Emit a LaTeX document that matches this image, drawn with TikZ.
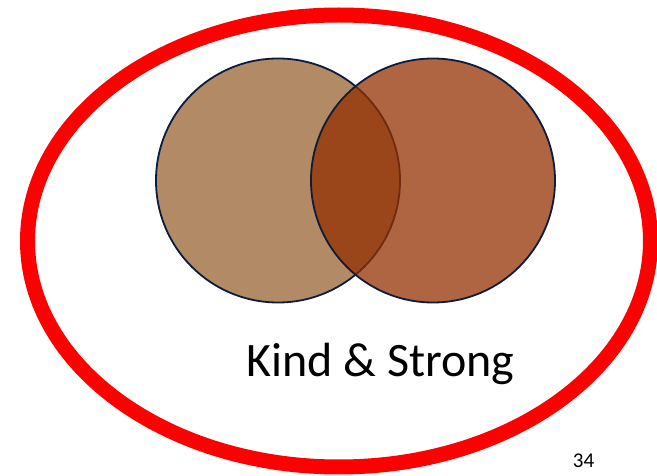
\documentclass[tikz,border=0pt]{standalone}
\usepackage{fontspec}
\setmainfont{Carlito}
\definecolor{ringred}{RGB}{255,0,0}
\definecolor{tan}{RGB}{178,138,102}
\definecolor{rust}{RGB}{148,47,0}
\definecolor{navy}{RGB}{12,28,58}
\tikzset{
  ring/.style={draw=ringred, line width=15pt},
  setcircle/.style={draw=navy, line width=1.8pt},
}
\begin{document}
\begin{tikzpicture}[x=1pt,y=-1pt]
\useasboundingbox (0,0) rectangle (657,476);
\clip (0,0) rectangle (657,476);
\fill[white] (0,0) rectangle (657,476);
\draw[ring] (339,241) ellipse [x radius=311.5, y radius=226];
\draw[setcircle, fill=tan] (278,180.5) circle [radius=122];
\draw[setcircle, fill=rust, fill opacity=0.74] (433,180.5) circle [radius=122];
\node[anchor=base, inner sep=0, font=\fontsize{48}{58}\selectfont] (label) at (380.5,377) {Kind \& Strong};
\node[anchor=base, inner sep=0, font=\fontsize{21}{25}\selectfont] (page) at (583.5,467) {34};
\end{tikzpicture}
\end{document}
